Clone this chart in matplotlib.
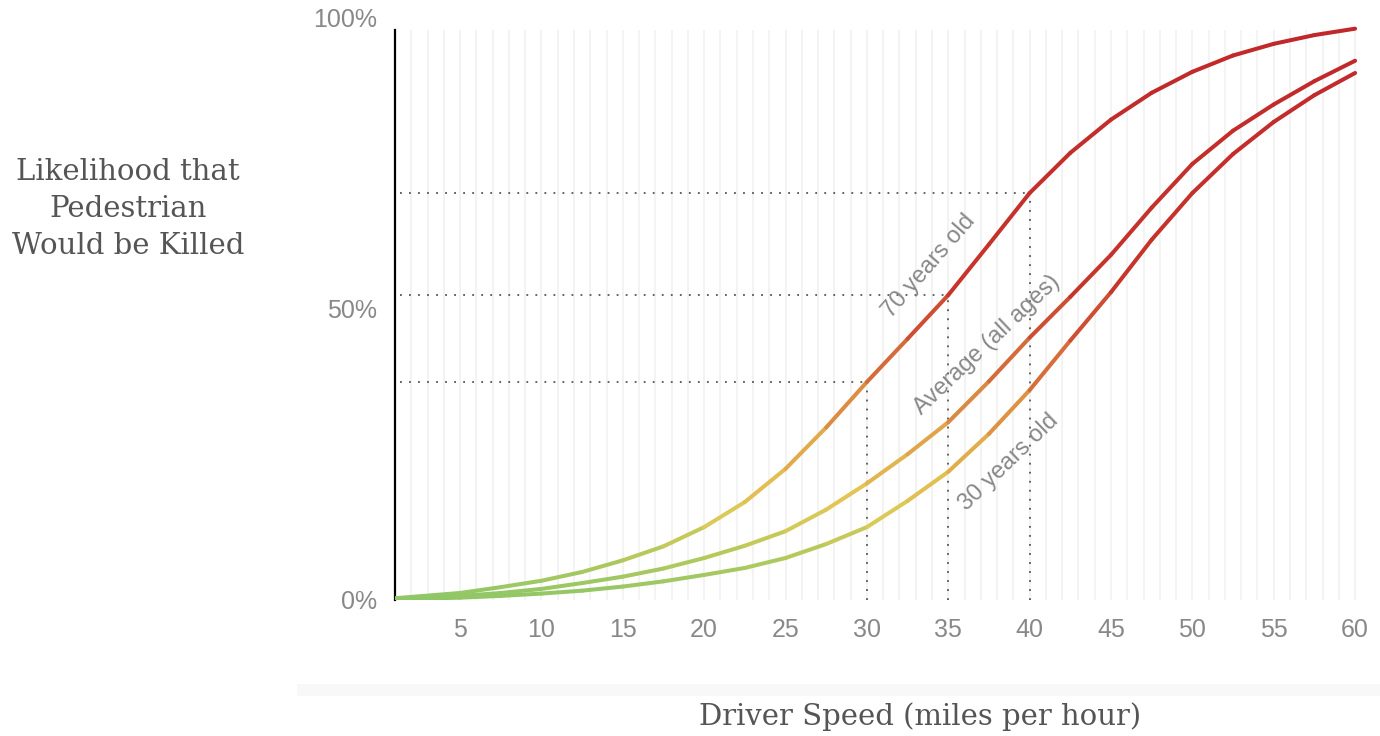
#########################################
# 1. Import required Libraries
#########################################

import numpy as np
import matplotlib
matplotlib.use("Agg")
import matplotlib.pyplot as plt
from matplotlib.collections import LineCollection
from matplotlib.colors import LinearSegmentedColormap
from matplotlib.patches import Rectangle

#########################################
# 2. Data
#########################################

speed = [1, 5, 7.5, 10, 12.5, 15, 17.5, 20, 22.5, 25, 27.5, 30, 32.5,
         35, 37.5, 40, 42.5, 45, 47.5, 50, 52.5, 55, 57.5, 60]

risk_70 = [0.3, 1.2, 2.2, 3.3, 4.8, 6.8, 9.2, 12.5, 16.8, 22.5, 29.6, 37.4, 44.8,
           52.3, 61.0, 69.8, 76.7, 82.4, 87.0, 90.6, 93.4, 95.4, 96.9, 98.0]

risk_avg = [0.2, 0.7, 1.2, 1.9, 2.9, 4.0, 5.4, 7.2, 9.3, 11.8, 15.5, 20.0, 25.0,
            30.5, 37.5, 45.0, 52.0, 59.2, 67.3, 74.8, 80.5, 85.0, 89.0, 92.5]

risk_30 = [0.1, 0.4, 0.7, 1.1, 1.6, 2.3, 3.2, 4.3, 5.5, 7.2, 9.6, 12.5, 17.0,
           22.0, 28.5, 36.0, 44.5, 52.8, 61.8, 69.8, 76.5, 82.0, 86.6, 90.4]

series_labels = ["70 years old", "Average (all ages)", "30 years old"]
label_pos = [(33.8, 57.3, 49), (37.4, 43.7, 43.5), (38.7, 23.7, 44)]

marked_speeds = [30, 35, 40]
x_ticks = [5, 10, 15, 20, 25, 30, 35, 40, 45, 50, 55, 60]
y_ticks = [0, 50, 100]
y_tick_labels = ["0%", "50%", "100%"]

#########################################
# 3. Figure and axes
#########################################

fig = plt.figure(figsize=(13.8, 7.36), dpi=100)
ax = fig.add_axes([0.2862, 0.1848, 0.6993, 0.7921])
ax.set_xlim(1, 60.3)
ax.set_ylim(0, 100)

for s in ["top", "right", "bottom"]:
    ax.spines[s].set_visible(False)
ax.spines["left"].set_bounds(0, 97.8)
ax.spines["left"].set_linewidth(1.6)
ax.spines["left"].set_color("black")

# light vertical grid, one line per mph
ax.vlines(np.arange(2, 61), 0, 97.8, color="#f2f2f2", lw=1.3, zorder=0)

ax.set_xticks(x_ticks)
ax.set_yticks(y_ticks)
ax.set_yticklabels(y_tick_labels)
ax.tick_params(length=0, labelsize=18, labelcolor="#888888", pad=13)
for lab in ax.get_xticklabels() + ax.get_yticklabels():
    lab.set_fontfamily("Liberation Sans")

#########################################
# 4. Dotted guide lines at 30/35/40 mph
#########################################

for sp in marked_speeds:
    val = risk_70[speed.index(sp)]
    ax.plot([1.3, sp], [val, val], color="#555555", lw=1.3,
            linestyle=(0, (1, 4)), zorder=1)
    ax.plot([sp, sp], [0, val], color="#555555", lw=1.3,
            linestyle=(0, (1, 4)), zorder=1)

#########################################
# 5. Gradient coloured curves
#########################################

cmap = LinearSegmentedColormap.from_list("risk", [
    (0.0, "#8fc766"),
    (0.08, "#b7c95c"),
    (0.16, "#e3c957"),
    (0.28, "#e0a449"),
    (0.40, "#d6703c"),
    (0.55, "#c6352b"),
    (1.0, "#c0272b"),
])

for values in [risk_70, risk_avg, risk_30]:
    pts = np.column_stack([speed, values])
    segs = np.stack([pts[:-1], pts[1:]], axis=1)
    mids = (np.array(values[:-1]) + np.array(values[1:])) / 2
    lc = LineCollection(segs, colors=cmap(mids / 100), linewidths=2.9,
                        capstyle="round", joinstyle="round", zorder=3)
    ax.add_collection(lc)

for text, (x, y, rot) in zip(series_labels, label_pos):
    ax.text(x, y, text, rotation=rot, rotation_mode="anchor",
            ha="center", va="center", fontsize=17, color="#888888",
            family="Liberation Sans", zorder=4)

#########################################
# 6. Axis titles
#########################################

fig.text(0.0928, 0.716, "Likelihood that\nPedestrian\nWould be Killed",
         ha="center", va="center", fontsize=21, color="#555555",
         family="DejaVu Serif", linespacing=1.42)

fig.add_artist(Rectangle((0.215, 0.055), 0.785, 0.016,
                         transform=fig.transFigure, color="#f8f8f8", lw=0))

fig.text(0.6667, 0.027, "Driver Speed (miles per hour)", ha="center",
         va="center", fontsize=21, color="#555555", family="DejaVu Serif")

fig.savefig("out.png", dpi=100)
